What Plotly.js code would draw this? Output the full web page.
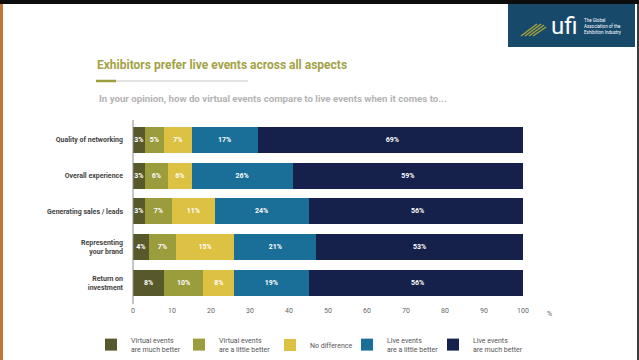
<!DOCTYPE html>
<html>
<head>
<meta charset="utf-8">
<script src="https://cdn.plot.ly/plotly-3.0.1.min.js"></script>
<style>html,body{margin:0;padding:0;background:#fff;}#chart{width:639px;height:360px;}</style>
</head>
<body>
<div id="chart"></div>
<script>
// ---- data ----
const categories = ["Quality of networking", "Overall experience", "Generating sales / leads", "Representing<br>your brand", "Return on<br>investment"];
const seriesNames = ["Virtual events<br>are much better", "Virtual events<br>are a little better", "No difference", "Live events<br>are a little better", "Live events<br>are much better"];
const virtualMuchBetter = [3, 3, 3, 4, 8];
const virtualLittleBetter = [5, 6, 7, 7, 10];
const noDifference = [7, 6, 11, 15, 8];
const liveLittleBetter = [17, 26, 24, 21, 19];
const liveMuchBetter = [69, 59, 56, 53, 56];
const xTicks = [0, 10, 20, 30, 40, 50, 60, 70, 80, 90, 100];

const seriesValues = [virtualMuchBetter, virtualLittleBetter, noDifference, liveLittleBetter, liveMuchBetter];
const colors = ["#58592a", "#9b9c3c", "#dcc142", "#1a6f98", "#15214b"];
const legendTextX = [131, 219, 310, 387, 473];

// pixel helpers for the decorative frame
const L = 133, R = 523, T = 120, B = 305;
const px = x => (x - L) / (R - L);
const py = y => (B - y) / (B - T);

const legendIds = ['legend', 'legend2', 'legend3', 'legend4', 'legend5'];

const traces = seriesValues.map((vals, i) => ({
  type: 'bar',
  orientation: 'h',
  name: seriesNames[i],
  legend: legendIds[i],
  y: categories,
  x: vals,
  text: vals.map(v => v + '%'),
  texttemplate: '%{text}',
  textposition: 'inside',
  insidetextanchor: 'middle',
  constraintext: 'none',
  textangle: 0,
  textfont: {color: '#ffffff', size: 7, family: 'Roboto', weight: 700},
  marker: {color: colors[i], line: {width: 0}},
  hoverinfo: 'skip'
}));

const shapes = [
  // screen frame
  {type: 'rect', xref: 'paper', yref: 'paper', x0: px(0), x1: px(639), y0: py(0), y1: py(4), fillcolor: '#0d0d0d', line: {width: 0}, layer: 'above'},
  {type: 'rect', xref: 'paper', yref: 'paper', x0: px(0), x1: px(3), y0: py(4), y1: py(360), fillcolor: '#c0753a', line: {width: 0}},
  {type: 'rect', xref: 'paper', yref: 'paper', x0: px(637), x1: px(639), y0: py(4), y1: py(360), fillcolor: '#3a3a3a', line: {width: 0}},
  // logo box
  {type: 'rect', xref: 'paper', yref: 'paper', x0: px(508), x1: px(635), y0: py(47), y1: py(4), fillcolor: '#17496b', line: {width: 0}},
  // logo stripes
  {type: 'line', xref: 'paper', yref: 'paper', x0: px(521), y0: py(36), x1: px(537), y1: py(24), line: {color: '#a4a33a', width: 1.5}},
  {type: 'line', xref: 'paper', yref: 'paper', x0: px(525), y0: py(36), x1: px(541), y1: py(24), line: {color: '#a4a33a', width: 1.5}},
  {type: 'line', xref: 'paper', yref: 'paper', x0: px(529), y0: py(36), x1: px(544), y1: py(25), line: {color: '#a4a33a', width: 1.5}},
  {type: 'line', xref: 'paper', yref: 'paper', x0: px(533), y0: py(36), x1: px(546), y1: py(27), line: {color: '#a4a33a', width: 1.5}},
  // title underline
  {type: 'line', xref: 'paper', yref: 'paper', x0: px(96), x1: px(248), y0: py(81), y1: py(81), line: {color: '#c8c8c8', width: 1}},
  {type: 'line', xref: 'paper', yref: 'paper', x0: px(96), x1: px(116), y0: py(81), y1: py(81), line: {color: '#9e9d3e', width: 2.5}},
  // y axis line (extends slightly below the bars, as in the reference)
  {type: 'line', xref: 'paper', yref: 'paper', x0: 0, x1: 0, y0: py(304), y1: py(120), line: {color: '#8a8a8a', width: 1}}
];

const annotations = [
  {xref: 'paper', yref: 'paper', x: px(97), y: py(98), xanchor: 'left', yanchor: 'middle', showarrow: false,
   text: 'In your opinion, how do virtual events compare to live events when it comes to...',
   font: {family: 'Roboto', size: 9.7, color: '#b3b3b3', weight: 700}},
  {xref: 'paper', yref: 'paper', x: px(545), y: py(314), xanchor: 'left', yanchor: 'middle', showarrow: false,
   text: '%', font: {family: 'Roboto', size: 7, color: '#666666'}},
  {xref: 'paper', yref: 'paper', x: px(549), y: py(26), xanchor: 'left', yanchor: 'middle', showarrow: false,
   text: 'ufi', font: {family: 'Roboto', size: 24, color: '#ffffff'}},
  {xref: 'paper', yref: 'paper', x: px(582), y: py(26), xanchor: 'left', yanchor: 'middle', showarrow: false, align: 'left',
   text: 'The Global<br>Association of the<br>Exhibition Industry', font: {family: 'Roboto', size: 4.5, color: '#ffffff'}}
];

const layout = {
  width: 639, height: 360,
  margin: {l: L, r: 639 - R, t: T, b: 360 - B, pad: 0, autoexpand: false},
  paper_bgcolor: '#ffffff', plot_bgcolor: '#ffffff',
  barmode: 'stack', bargap: 0.27,
  showlegend: true,
  title: {text: 'Exhibitors prefer live events across all aspects', x: 97 / 639, xanchor: 'left', xref: 'container',
          y: 1 - 65 / 360, yanchor: 'middle', yref: 'container',
          font: {family: 'Roboto', size: 12, color: '#a2a246', weight: 700}},
  xaxis: {range: [0, 100], tickvals: xTicks, ticktext: xTicks.map(String), showgrid: false, zeroline: false, showline: false,
          ticks: '', tickfont: {family: 'Roboto', size: 7, color: '#666666'}, fixedrange: true},
  yaxis: {categoryorder: 'array', categoryarray: categories, range: [4.62, -0.56], showgrid: false, zeroline: false,
          showline: false, ticks: '', ticklabelstandoff: 9,
          tickfont: {family: 'Roboto', size: 7, color: '#444444', weight: 700}, fixedrange: true},
  shapes: shapes, annotations: annotations
};

legendIds.forEach((id, i) => {
  layout[id] = {
    orientation: 'h', xref: 'container', yref: 'container',
    x: (legendTextX[i] - 40) / 639, xanchor: 'left', y: 1 - 345 / 360, yanchor: 'middle',
    bgcolor: 'rgba(0,0,0,0)', borderwidth: 0, itemwidth: 30,
    font: {family: 'Roboto', size: 7, color: '#555555'}
  };
});

Plotly.newPlot('chart', traces, layout, {displayModeBar: false, staticPlot: true});
</script>
</body>
</html>
